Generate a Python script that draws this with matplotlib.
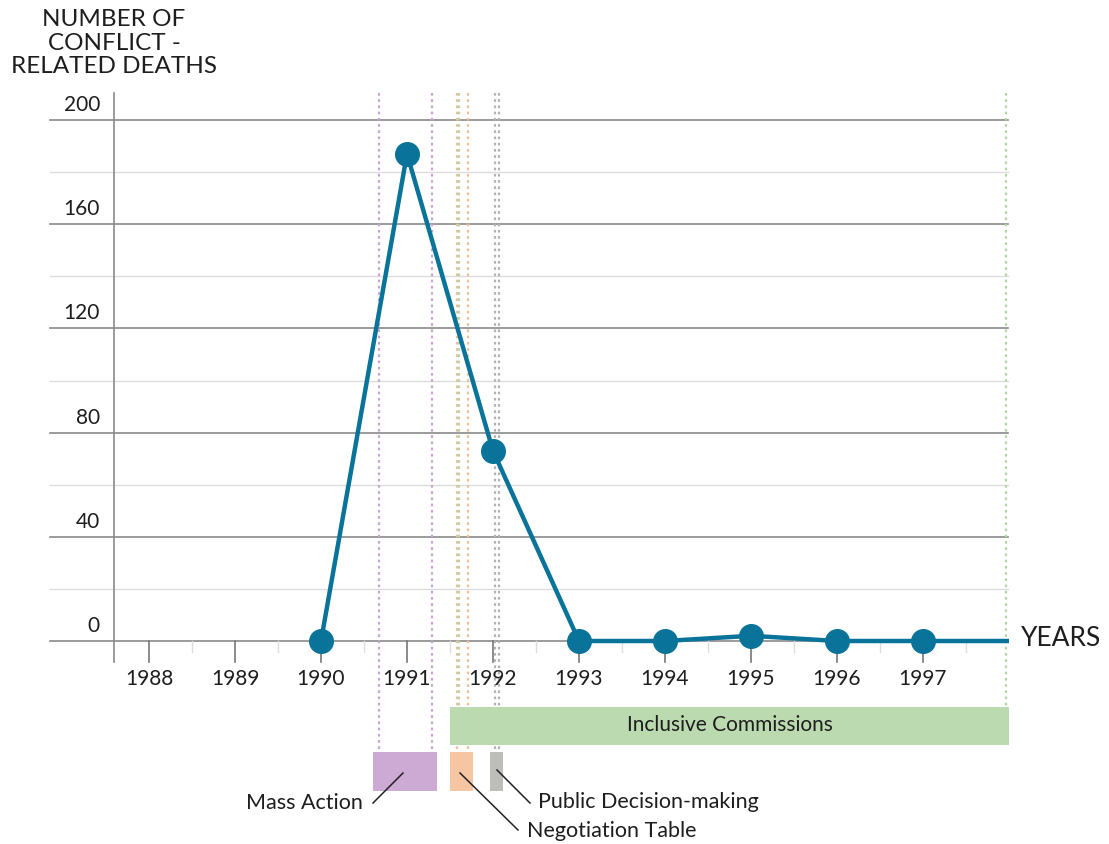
import matplotlib
matplotlib.use("Agg")
import matplotlib.pyplot as plt
import numpy as np

# ---------------- data ----------------
years = [1990, 1991, 1992, 1993, 1994, 1995, 1996, 1997]
deaths = [0, 187, 73, 0, 0, 2, 0, 0]
line_end_year = 1998
line_end_value = 0

xtick_years = [1988, 1989, 1990, 1991, 1992, 1993, 1994, 1995, 1996, 1997]
ytick_major = [0, 40, 80, 120, 160, 200]
ytick_minor = [20, 60, 100, 140, 180]

# events: dotted marker lines and span bars
event_names = ["Mass Action", "Negotiation Table", "Public Decision-making", "Inclusive Commissions"]
event_lines = [[1990.67, 1991.29], [1991.58, 1991.71], [1992.02, 1992.07], [1991.61, 1997.97]]
event_bars = [[1990.60, 1991.35], [1991.50, 1991.77], [1991.96, 1992.12], [1991.50, 1998.0]]
event_line_colors = ["#c9a3d2", "#f4bd95", "#b3b3b3", "#b4d6a6"]
event_bar_colors = ["#cdaad3", "#f6c5a1", "#bdbeb9", "#bcdab0"]

# ---------------- figure ----------------
W, H = 1109, 844
plt.rcParams["font.family"] = ["Lato", "DejaVu Sans"]
fig = plt.figure(figsize=(W / 100, H / 100), dpi=100)
ax = fig.add_axes([0, 0, 1, 1])
ax.set_axis_off()

PX_YEAR = 86.0
X0_PX, X0_YR = 149.0, 1988.0
PX_UNIT = 2.605
Y0_PX = 641.0


def xd(px):
    return X0_YR + (px - X0_PX) / PX_YEAR


def yd(px):
    return (Y0_PX - px) / PX_UNIT


ax.set_xlim(xd(0), xd(W))
ax.set_ylim(yd(H), yd(0))

TXT = "#1e1e1e"
FW = "normal"
FS = 15
FS_LAB = 15.5

# gridlines
gx0, gx1 = xd(50), xd(1008)
for v in ytick_minor:
    ax.plot([gx0, gx1], [v, v], color="#dcdcdc", lw=1.0, zorder=1)
for v in ytick_major:
    ax.plot([gx0, gx1], [v, v], color="#8a8a8a", lw=1.2, zorder=1)
    ax.text(xd(100), v + yd(626), str(v), ha="right", va="center", fontsize=FS,
            color=TXT, fontweight=FW)

# y axis line
ax.plot([xd(114), xd(114)], [yd(93), yd(662)], color="#8a8a8a", lw=1.2, zorder=1)

# x ticks
for yr in xtick_years:
    ax.plot([yr, yr], [0, yd(662)], color="#777777", lw=1.2, zorder=1)
    ax.text(yr, yd(679), str(yr), ha="center", va="center", fontsize=FS,
            color=TXT, fontweight=FW)
for yr in xtick_years:
    m = yr + 0.5
    ax.plot([m, m], [0, yd(652)], color="#dddddd", lw=1.0, zorder=1)

# event dotted lines
top_y = yd(93)
bar_tops = [yd(752), yd(752), yd(752), yd(707)]
for lines, col, btop in zip(event_lines, event_line_colors, bar_tops):
    for lx in lines:
        ax.plot([lx, lx], [top_y, btop], color=col, lw=1.6, ls=(0, (1.2, 1.6)), zorder=2)

# event bars
bar_y = [(yd(791), yd(752)), (yd(791), yd(752)), (yd(791), yd(752)), (yd(745), yd(707))]
for (b0, b1), col, (yb, yt) in zip(event_bars, event_bar_colors, bar_y):
    ax.fill_between([b0, b1], yb, yt, color=col, lw=0, zorder=3)

ax.text(xd(730), yd(725), event_names[3], ha="center", va="center", fontsize=FS,
        color=TXT, fontweight=FW, zorder=4)

# leader lines + labels
ax.plot([xd(373), xd(403)], [yd(803), yd(773)], color="#222222", lw=1.1, zorder=4)
ax.text(xd(363), yd(803), event_names[0], ha="right", va="center", fontsize=FS_LAB,
        color=TXT, fontweight=FW)
ax.plot([xd(460), xd(518)], [yd(773), yd(830)], color="#222222", lw=1.1, zorder=4)
ax.text(xd(527), yd(831), event_names[1], ha="left", va="center", fontsize=FS_LAB,
        color=TXT, fontweight=FW)
ax.plot([xd(497), xd(530)], [yd(770), yd(803)], color="#222222", lw=1.1, zorder=4)
ax.text(xd(538), yd(802), event_names[2], ha="left", va="center", fontsize=FS_LAB,
        color=TXT, fontweight=FW)

# main series
LINE = "#0a7399"
ax.plot(years + [line_end_year], deaths + [line_end_value], color=LINE, lw=3.2,
        solid_capstyle="butt", zorder=5)
ax.plot(years, deaths, ls="none", marker="o", ms=17, color=LINE, zorder=6)

# titles
ax.text(xd(114), yd(43), "NUMBER OF\nCONFLICT -\nRELATED DEATHS", ha="center", va="center",
        fontsize=17.5, color=TXT, fontweight=FW, linespacing=1.17)
ax.text(xd(1021), yd(639), "YEARS", ha="left", va="center", fontsize=19,
        color=TXT, fontweight=FW)

fig.savefig("out.png", dpi=100)
